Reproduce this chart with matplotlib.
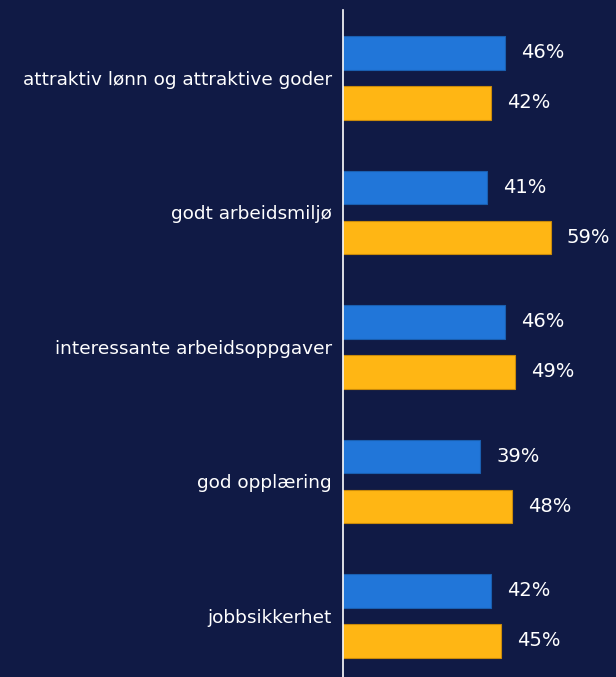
import matplotlib
matplotlib.use("Agg")
import matplotlib.pyplot as plt
import numpy as np

categories = [
    "attraktiv lønn og attraktive goder",
    "godt arbeidsmiljø",
    "interessante arbeidsoppgaver",
    "god opplæring",
    "jobbsikkerhet",
]
series_blue = [46, 41, 46, 39, 42]
series_yellow = [42, 59, 49, 48, 45]

BG = "#101a45"
BLUE = "#2176d9"
YELLOW = "#ffb614"

fig = plt.figure(figsize=(6.16, 6.77), dpi=100, facecolor=BG)
ax = fig.add_axes([343 / 616, 0, 273 / 616, 667 / 677])
ax.set_facecolor(BG)

step = 134.5
y = np.arange(len(categories))
off = 25 / step
h = 33.5 / step
ax.barh(y - off, series_blue, height=h, color=BLUE, edgecolor="#1a5fb0", linewidth=0.8)
ax.barh(y + off, series_yellow, height=h, color=YELLOW, edgecolor="#c98a0a", linewidth=0.8)

ax.set_xlim(0, 273 / 3.52)
ax.set_ylim((677 - 78) / step, -68 / step)

for yi, v in zip(y - off, series_blue):
    ax.text(v + 16 / 3.52, yi, f"{v}%", color="white", fontsize=14, va="center", ha="left")
for yi, v in zip(y + off, series_yellow):
    ax.text(v + 16 / 3.52, yi, f"{v}%", color="white", fontsize=14, va="center", ha="left")

ax.set_yticks(y)
ax.set_yticklabels(categories, color="white", fontsize=13.3)
ax.tick_params(axis="y", length=0, pad=8)
ax.set_xticks([])
for s in ["top", "right", "bottom"]:
    ax.spines[s].set_visible(False)
ax.spines["left"].set_color("white")
ax.spines["left"].set_linewidth(1.2)

fig.savefig("out.png", dpi=100, facecolor=BG)
